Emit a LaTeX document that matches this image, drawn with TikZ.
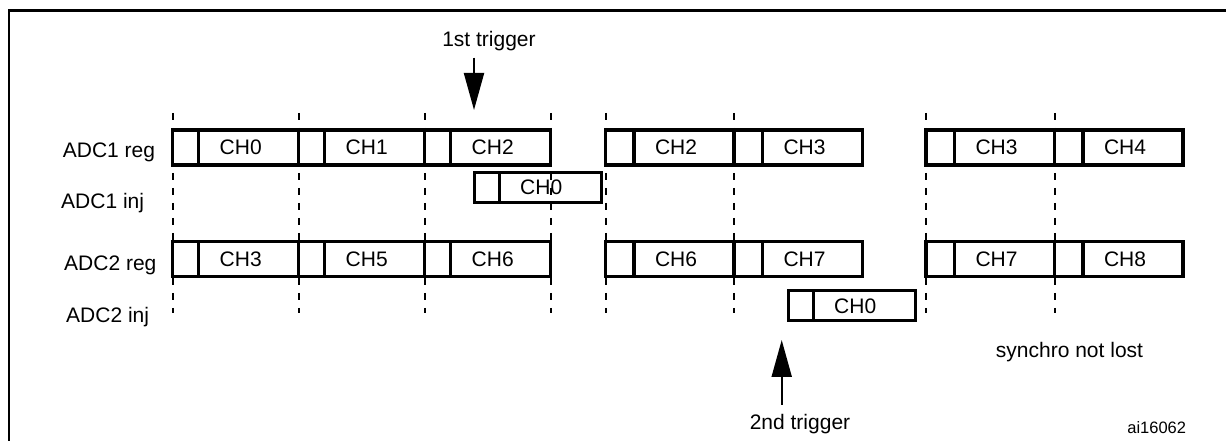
\documentclass[tikz,border=0pt]{standalone}
\usepackage{fontspec}
\setmainfont{Liberation Sans}
\usetikzlibrary{arrows.meta,positioning}

\begin{document}
\begin{tikzpicture}[
  x=1pt, y=1pt,
  celula/.style={draw, fill=white, line width=3.4pt, inner sep=0pt, outer sep=0pt, minimum height=35pt},
  pausa/.style={celula, minimum width=#1},
  pausa/.default=26pt,
  canal/.style={celula, minimum width=100pt, text width=58pt, inner xsep=21pt, align=left, font=\fontsize{21}{25}\selectfont},
  injetado/.style={minimum height=30pt, line width=3pt},
  rotulo/.style={inner sep=0pt, font=\fontsize{21}{25}\selectfont},
  tracejado/.style={line width=2pt, dash pattern=on 7pt off 8pt},
  seta/.style={-{Triangle[length=37pt, width=20pt]}, line width=2pt}
]
\useasboundingbox (0,0) rectangle (1226,441);
\draw[line width=2.5pt] (9,0) |- (1226,430.5);

% rotulos das linhas
\node[rotulo, anchor=base west] (adc1reg) at (62.7,283.7) {ADC1 reg};
\node[rotulo, anchor=base west] (adc1inj) at (61,232.7) {ADC1 inj};
\node[rotulo, anchor=base west] (adc2reg) at (64,170.4) {ADC2 reg};
\node[rotulo, anchor=base west] (adc2inj) at (66,118.7) {ADC2 inj};

% ADC1 regular
\node[pausa, anchor=west] (pa1) at (172.7,293.5) {};
\node[canal, right=0pt of pa1] (ca1) {CH0};
\node[pausa, right=0pt of ca1] (pa2) {};
\node[canal, right=0pt of pa2] (ca2) {CH1};
\node[pausa, right=0pt of ca2] (pa3) {};
\node[canal, right=0pt of pa3] (ca3) {CH2};
\node[pausa=28.5pt, anchor=west] (pa4) at (605.5,293.5) {};
\node[canal, right=0pt of pa4] (ca4) {CH2};
\node[pausa=28.5pt, right=0pt of ca4] (pa5) {};
\node[canal, right=0pt of pa5] (ca5) {CH3};
\node[pausa=28.5pt, anchor=west] (pa6) at (926,293.5) {};
\node[canal, right=0pt of pa6] (ca6) {CH3};
\node[pausa=28.5pt, right=0pt of ca6] (pa7) {};
\node[canal, right=0pt of pa7] (ca7) {CH4};

% ADC1 injetado
\node[pausa=25pt, injetado, anchor=west] (pia) at (474.2,253.7) {};
\node[canal, injetado, minimum width=102pt, text width=60pt, right=0pt of pia] (cia) {CH0};

% ADC2 regular
\node[pausa, anchor=west] (pb1) at (172.7,182) {};
\node[canal, right=0pt of pb1] (cb1) {CH3};
\node[pausa, right=0pt of cb1] (pb2) {};
\node[canal, right=0pt of pb2] (cb2) {CH5};
\node[pausa, right=0pt of cb2] (pb3) {};
\node[canal, right=0pt of pb3] (cb3) {CH6};
\node[pausa=28.5pt, anchor=west] (pb4) at (605.5,182) {};
\node[canal, right=0pt of pb4] (cb4) {CH6};
\node[pausa=28.5pt, right=0pt of cb4] (pb5) {};
\node[canal, right=0pt of pb5] (cb5) {CH7};
\node[pausa=28.5pt, anchor=west] (pb6) at (926,182) {};
\node[canal, right=0pt of pb6] (cb6) {CH7};
\node[pausa=28.5pt, right=0pt of cb6] (pb7) {};
\node[canal, right=0pt of pb7] (cb7) {CH8};

% ADC2 injetado
\node[pausa=25pt, injetado, anchor=west] (pib) at (788.2,135) {};
\node[canal, injetado, minimum width=102pt, text width=60pt, right=0pt of pib] (cib) {CH0};

% marcas de tempo
\coordinate (topo) at (0,328);
\coordinate (fundo) at (0,128);
\draw[tracejado] (pa1.west |- topo) -- (pa1.west |- fundo);
\draw[tracejado] (pa2.west |- topo) -- (pa2.west |- fundo);
\draw[tracejado] (pa3.west |- topo) -- (pa3.west |- fundo);
\draw[tracejado] (ca3.east |- topo) -- (ca3.east |- fundo);
\draw[tracejado] (pa4.west |- topo) -- (pa4.west |- fundo);
\draw[tracejado] (pa5.west |- topo) -- (pa5.west |- fundo);
\draw[tracejado] (pa6.west |- topo) -- (pa6.west |- fundo);
\draw[tracejado] (pa7.west |- topo) -- (pa7.west |- fundo);

% gatilhos
\node[rotulo, anchor=base] (gatilho1) at (489,394) {1st trigger};
\coordinate (ponta1) at (474,331);
\draw[seta, shorten <=6pt] (gatilho1.south -| ponta1) -- (ponta1);
\node[rotulo, anchor=base] (gatilho2) at (800,11) {2nd trigger};
\coordinate (ponta2) at (781.7,101);
\draw[seta, shorten <=10pt] (gatilho2.north -| ponta2) -- (ponta2);

\node[rotulo, anchor=base] (sincronia) at (1069.5,83.3) {synchro not lost};
\node[rotulo, anchor=base, font=\fontsize{16.5}{20}\selectfont] (codigo) at (1156.7,7) {ai16062};
\end{tikzpicture}
\end{document}
